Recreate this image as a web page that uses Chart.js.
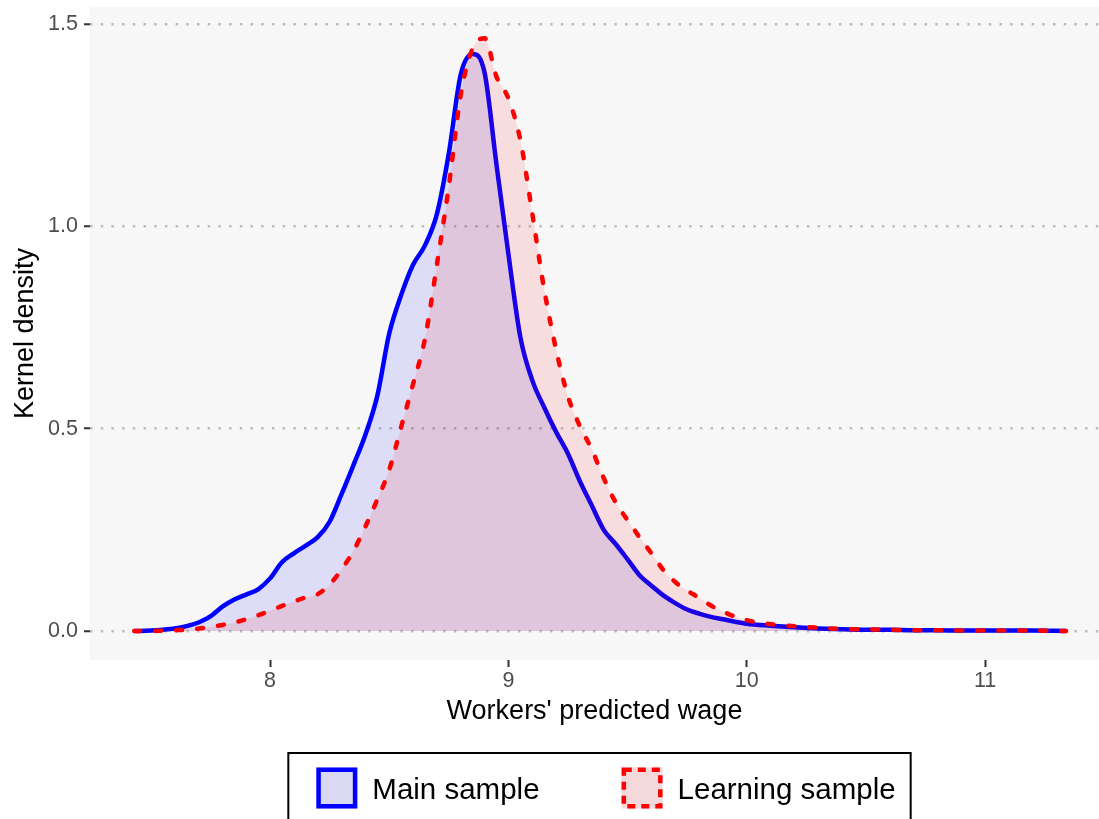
<!DOCTYPE html>
<html>
<head>
<meta charset="utf-8">
<script src="https://cdn.jsdelivr.net/npm/chart.js@4.4.0/dist/chart.umd.min.js"></script>
<style>
  html, body { margin: 0; padding: 0; background: #fff; }
  #wrap { width: 1099px; height: 819px; }
</style>
</head>
<body>
<div id="wrap"><canvas id="densityChart" width="1099" height="819"></canvas></div>
<script>
// wage grid (log wage) and the two kernel density curves
const wageGrid = [
    7.43, 7.50, 7.55, 7.60, 7.65, 7.70, 7.75, 7.80, 7.85, 7.90, 7.95,
    8.00, 8.05, 8.10, 8.15, 8.20, 8.25, 8.30, 8.35, 8.40, 8.45,
    8.50, 8.55, 8.60, 8.65, 8.70, 8.75, 8.80, 8.85, 8.90, 8.95,
    9.00, 9.05, 9.10, 9.15, 9.20, 9.25, 9.30, 9.35, 9.40, 9.45,
    9.50, 9.55, 9.60, 9.65, 9.70, 9.75, 9.80, 9.85, 9.90, 9.95,
    10.0, 10.1, 10.2, 10.3, 10.4, 10.5, 10.6, 10.7, 10.8, 10.9,
    11.0, 11.1, 11.2, 11.34
];
const mainDensity = [
    0.000, 0.001, 0.003, 0.006, 0.012, 0.021, 0.036, 0.060, 0.078, 0.090, 0.103,
    0.130, 0.170, 0.192, 0.211, 0.232, 0.270, 0.338, 0.410, 0.485, 0.581,
    0.735, 0.830, 0.905, 0.953, 1.030, 1.180, 1.375, 1.426, 1.380, 1.153,
    0.932, 0.727, 0.620, 0.553, 0.492, 0.438, 0.370, 0.310, 0.250, 0.215,
    0.177, 0.138, 0.112, 0.088, 0.069, 0.053, 0.043, 0.035, 0.029, 0.023,
    0.018, 0.013, 0.009, 0.006, 0.004, 0.003, 0.003, 0.002, 0.002, 0.001,
    0.001, 0.001, 0.001, 0.000
];
const learningDensity = [
    0.000, 0.000, 0.001, 0.002, 0.003, 0.006, 0.010, 0.015, 0.021, 0.029, 0.039,
    0.050, 0.062, 0.073, 0.083, 0.091, 0.115, 0.152, 0.198, 0.258, 0.325,
    0.398, 0.504, 0.610, 0.722, 0.905, 1.099, 1.325, 1.440, 1.465, 1.370,
    1.316, 1.214, 1.033, 0.845, 0.696, 0.580, 0.506, 0.449, 0.378, 0.318,
    0.274, 0.232, 0.192, 0.151, 0.121, 0.100, 0.082, 0.063, 0.048, 0.036,
    0.027, 0.017, 0.012, 0.008, 0.005, 0.004, 0.003, 0.002, 0.002, 0.001,
    0.001, 0.001, 0.001, 0.000
];
const xTicks = [8, 9, 10, 11];
const yTicks = [0, 0.5, 1.0, 1.5];
const seriesNames = ["Main sample", "Learning sample"];

const FONT = "'Liberation Sans', Arial, Helvetica, sans-serif";
Chart.defaults.font.family = FONT;

const toPoints = ys => wageGrid.map((x, i) => ({ x: x, y: ys[i] }));

// no extra room for tick labels sticking out of the panel
const noOverflow = s => { s.paddingTop = 0; s.paddingBottom = 0; s.paddingLeft = 0; s.paddingRight = 0; };

// grey panel behind the plot
const panelBg = {
    id: 'panelBg',
    beforeDraw(chart) {
        const { ctx, chartArea: a } = chart;
        ctx.save();
        ctx.fillStyle = '#ffffff';
        ctx.fillRect(0, 0, chart.width, chart.height);
        ctx.fillStyle = '#f7f7f7';
        ctx.fillRect(a.left, a.top, a.right - a.left, a.bottom - a.top);
        ctx.restore();
    }
};

// ggplot-like boxed legend under the x axis title
const boxLegend = {
    id: 'boxLegend',
    afterDraw(chart) {
        const { ctx, chartArea: a } = chart;
        const key = 41, padL = 28, padR = 15, gapText = 15, gapItem = 82;
        ctx.save();
        ctx.font = '29.5px ' + FONT;
        const items = chart.data.datasets.map(ds => ({ ds, w: ctx.measureText(ds.label).width }));
        let total = padL + padR + gapItem * (items.length - 1);
        items.forEach(it => { total += key + gapText + it.w; });
        const left = (a.left + a.right) / 2 + 5 - total / 2;
        const top = a.bottom + 93;

        ctx.lineWidth = 2;
        ctx.strokeStyle = '#000';
        ctx.setLineDash([]);
        ctx.strokeRect(left, top, total, 120);

        let x = left + padL;
        const keyTop = top + 14.5;
        items.forEach(it => {
            const ds = it.ds;
            ctx.fillStyle = '#f2f2f2';
            ctx.fillRect(x, keyTop, key, key);
            ctx.fillStyle = ds.backgroundColor;
            ctx.fillRect(x, keyTop, key, key);
            ctx.lineWidth = 4.5;
            ctx.strokeStyle = ds.borderColor;
            ctx.lineCap = 'butt';
            ctx.setLineDash(ds.legendDash || []);
            ctx.strokeRect(x + 2.25, keyTop + 2.25, key - 4.5, key - 4.5);
            ctx.setLineDash([]);
            ctx.fillStyle = '#000';
            ctx.textBaseline = 'alphabetic';
            ctx.textAlign = 'left';
            ctx.fillText(ds.label, x + key + gapText, keyTop + key / 2 + 11);
            x += key + gapText + it.w + gapItem;
        });
        ctx.restore();
    }
};

new Chart(document.getElementById('densityChart'), {
    type: 'line',
    data: {
        datasets: [
            {
                label: seriesNames[0],
                data: toPoints(mainDensity),
                borderColor: '#0000ff',
                backgroundColor: 'rgba(0,0,255,0.1)',
                borderWidth: 4.5,
                fill: 'origin',
                order: 2
            },
            {
                label: seriesNames[1],
                data: toPoints(learningDensity),
                borderColor: '#ff0000',
                backgroundColor: 'rgba(255,0,0,0.1)',
                borderWidth: 4.5,
                borderDash: [6, 15],
                borderCapStyle: 'round',
                legendDash: [8, 6],
                fill: 'origin',
                order: 1
            }
        ]
    },
    options: {
        responsive: false,
        animation: false,
        layout: { padding: { top: 7, right: 0, bottom: 69, left: 0 } },
        elements: {
            point: { radius: 0, hoverRadius: 0 },
            line: { cubicInterpolationMode: 'monotone' }
        },
        plugins: { legend: { display: false }, tooltip: { enabled: false } },
        scales: {
            x: {
                type: 'linear',
                min: 7.2446,
                max: 11.478,
                afterBuildTicks: s => { s.ticks = xTicks.map(v => ({ value: v })); },
                afterFit: s => { s.height = 90; noOverflow(s); },
                grid: { drawOnChartArea: false, drawTicks: true, tickLength: 7, tickColor: '#333333', tickWidth: 2 },
                border: { display: false },
                ticks: { color: '#4d4d4d', font: { size: 21.5 }, padding: 1, maxRotation: 0 },
                title: { display: true, text: "Workers' predicted wage", color: '#000', font: { size: 27 }, padding: { top: 0, bottom: 22 } }
            },
            y: {
                type: 'linear',
                min: -0.0717,
                max: 1.542,
                afterBuildTicks: s => { s.ticks = yTicks.map(v => ({ value: v })); },
                afterFit: s => { s.width = 90; noOverflow(s); },
                grid: { color: '#bdbdbd', lineWidth: 2.5, drawTicks: true, tickLength: 6, tickColor: '#333333', tickWidth: 2 },
                border: { display: false, dash: [2.5, 8.2] },
                ticks: { color: '#4d4d4d', font: { size: 21.5 }, padding: 6, callback: v => v.toFixed(1) },
                title: { display: true, text: 'Kernel density', color: '#000', font: { size: 27 }, padding: { top: 9, bottom: 0 } }
            }
        }
    },
    plugins: [panelBg, boxLegend]
});
</script>
</body>
</html>
